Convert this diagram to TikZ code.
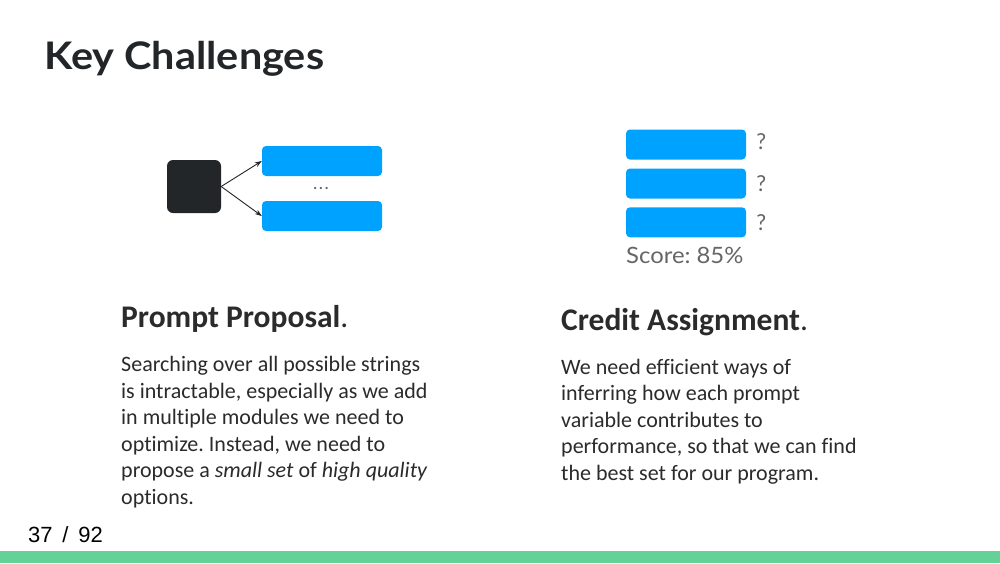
\documentclass[tikz,border=0pt]{standalone}
\usepackage{fontspec}
\setmainfont{Carlito}[Ligatures=NoCommon]
\newfontfamily\headfont{Lato}
\newfontfamily\pagefont{Liberation Sans}
\usetikzlibrary{arrows.meta}
\frenchspacing

\definecolor{inkdark}{HTML}{222629}
\definecolor{bodytext}{HTML}{2B2B2B}
\definecolor{barblue}{HTML}{00A2FF}
\definecolor{softgray}{HTML}{666666}
\definecolor{footgreen}{HTML}{63D297}

\tikzset{
  bluebar/.style={fill=barblue, draw=none, rounded corners=4pt, minimum width=120pt, minimum height=30pt, inner sep=0pt},
  promptbox/.style={fill=inkdark, draw=none, rounded corners=6pt, minimum width=54pt, minimum height=53pt, inner sep=0pt},
  flow/.style={draw=inkdark, line width=0.9pt, -{Stealth[length=7pt,width=5pt]}},
  heading/.style={anchor=base west, inner sep=0pt, text=bodytext, font=\fontsize{31.5}{36}\selectfont\bfseries},
  bodypara/.style={anchor=base west, inner sep=0pt, align=left, text=bodytext, font=\fontsize{22}{26.5}\selectfont},
  qmark/.style={anchor=west, inner sep=0pt, text=softgray, font=\headfont\fontsize{22}{26}\selectfont}
}

\begin{document}
\begin{tikzpicture}[x=1pt,y=-1pt]
  \useasboundingbox[fill=white] (0,0) rectangle (1000,563);

  % title
  \node[anchor=base west, inner sep=0pt, text=inkdark, xscale=1.09, font=\headfont\fontsize{38}{44}\selectfont\bfseries]
    (title) at (44,69.5) {Key Challenges};

  % proposal sketch: one prompt fanning out to candidate strings
  \node[promptbox] (prompt) at (194,186.5) {};
  \node[bluebar] (candA) at (322,161) {};
  \node[bluebar] (candB) at (322,216) {};
  \node[anchor=base, inner sep=0pt, text=softgray, font=\headfont\fontsize{18}{20}\selectfont] (more) at (321,189) {.\kern1.5pt.\kern1.5pt.};
  \draw[flow] (prompt.east) -- (candA.west);
  \draw[flow] (prompt.east) -- (candB.west);

  % credit assignment sketch: three variables with unknown contributions
  \node[bluebar] (varA) at (686,144.5) {};
  \node[bluebar] (varB) at (686,183.5) {};
  \node[bluebar] (varC) at (686,222.3) {};
  \node[qmark] (qA) at ([xshift=10pt,yshift=3pt]varA.east) {?};
  \node[qmark] (qB) at ([xshift=10pt]varB.east) {?};
  \node[qmark] (qC) at ([xshift=10pt]varC.east) {?};
  \node[anchor=base west, inner sep=0pt, text=softgray, xscale=1.06, font=\headfont\fontsize{22.5}{26}\selectfont]
    (score) at (626,263.3) {Score: 85\%};

  % left column text
  \node[heading] (propHead) at (121,327) {Prompt Proposal\mdseries.};
  \node[bodypara] (propText) at (121,504) {Searching over all possible strings\\
    is intractable, especially as we add\\
    in multiple modules we need to\\
    optimize. Instead, we need to\\
    propose a \textit{small set} of \textit{high quality}\\
    options.};

  % right column text
  \node[heading] (credHead) at (561,330.5) {Credit Assignment\mdseries.};
  \node[bodypara] (credText) at (561,480) {We need efficient ways of\\
    inferring how each prompt\\
    variable contributes to\\
    performance, so that we can find\\
    the best set for our program.};

  % footer
  \node[anchor=base west, inner sep=0pt, text=black, font=\pagefont\fontsize{22}{24}\selectfont]
    (pagenum) at (28,542) {37 \,/\, 92};
  \fill[footgreen] (0,551) rectangle (1000,563);
\end{tikzpicture}
\end{document}
